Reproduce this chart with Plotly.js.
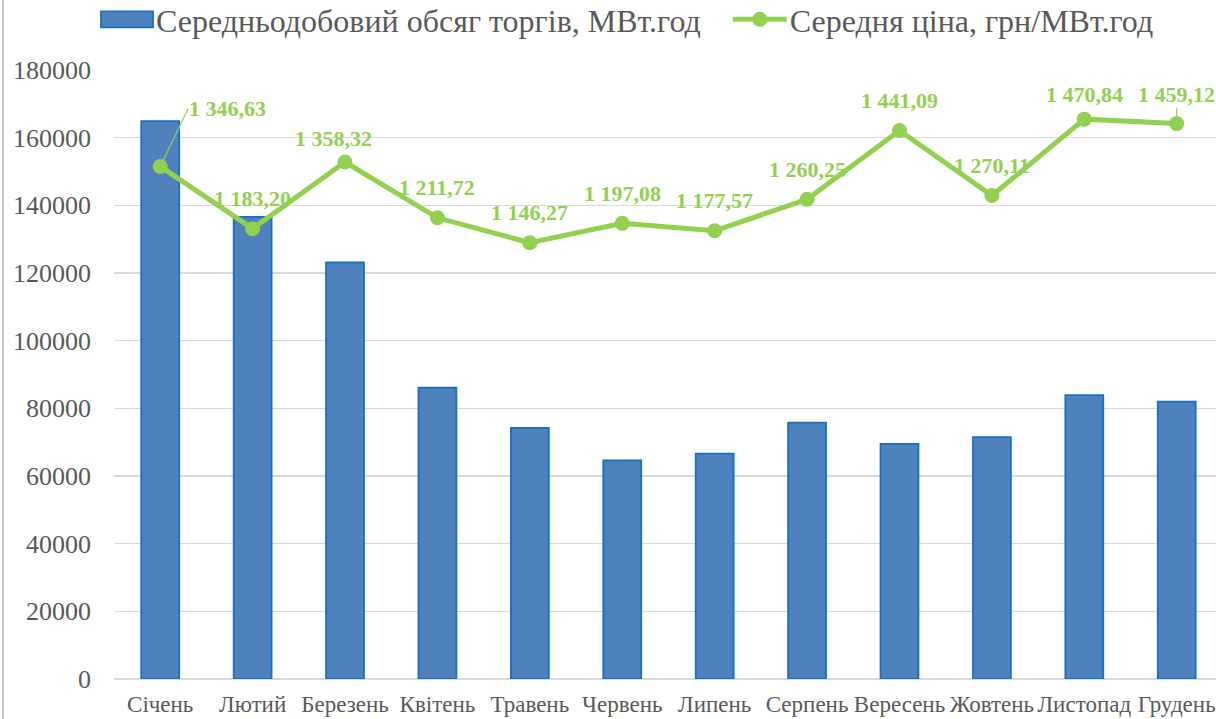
<!DOCTYPE html>
<html>
<head>
<meta charset="utf-8">
<script src="https://cdn.plot.ly/plotly-3.0.1.min.js"></script>
<style>
  html, body { margin: 0; padding: 0; background: #fff; }
  #wrap { position: relative; width: 1216px; height: 719px; overflow: hidden; }
  #chart { position: absolute; left: 0; top: 0; width: 1216px; height: 719px; }
  #edge { position: absolute; left: 2px; top: 0; width: 2px; height: 719px; background: #C9C9C9; }
</style>
</head>
<body>
<div id="wrap"><div id="chart"></div><div id="edge"></div></div>
<script>
// ---- data ----
const months = ['Січень','Лютий','Березень','Квітень','Травень','Червень','Липень','Серпень','Вересень','Жовтень','Листопад','Грудень'];
const volume = [164900, 136600, 123100, 86100, 74200, 64600, 66600, 75800, 69500, 71500, 83900, 82000];
const price = [1346.63, 1183.20, 1358.32, 1211.72, 1146.27, 1197.08, 1177.57, 1260.25, 1441.09, 1270.11, 1470.84, 1459.12];
const yTicks = [0, 20000, 40000, 60000, 80000, 100000, 120000, 140000, 160000, 180000];
const volumeName = 'Середньодобовий обсяг торгів, МВт.год';
const priceName = 'Середня ціна, грн/МВт.год';

// ---- styling ----
const serif = 'Liberation Serif, Times New Roman, serif';
const grey = '#595959';
const green = '#92D050';

function fmt(v) {
  const parts = v.toFixed(2).split('.');
  const intPart = parts[0].replace(/\B(?=(\d{3})+(?!\d))/g, ' ');
  return intPart + ',' + parts[1];
}

// label placement tweaks (layout only)
const labelTweak = {
  'Січень':   { arrow: true, ax: 28, ay: -58, xanchor: 'left', standoff: 0 },
  'Березень': { xshift: -12, yshift: 23 },
  'Листопад': { yshift: 25 },
  'Грудень':  { arrow: true, ax: 0, ay: -29, standoff: 7 }
};

const annotations = months.map((m, i) => {
  const t = labelTweak[m] || {};
  const a = {
    x: m, y: price[i], xref: 'x', yref: 'y2',
    text: '<b>' + fmt(price[i]) + '</b>',
    font: { family: serif, size: 22, color: green },
    showarrow: false
  };
  if (t.arrow) {
    a.showarrow = true;
    a.arrowhead = 0;
    a.arrowwidth = 1.2;
    a.arrowcolor = green;
    a.ax = t.ax; a.ay = t.ay;
    a.standoff = t.standoff;
    a.xanchor = t.xanchor || 'center';
    a.yanchor = 'middle';
    a.borderpad = 0;
  } else {
    a.yshift = (t.yshift !== undefined ? t.yshift : 30);
    a.xshift = t.xshift || 0;
    a.yanchor = 'middle';
  }
  return a;
});

const traces = [
  {
    type: 'bar', name: volumeName, x: months, y: volume, width: 0.41,
    legendgroup: 'vol',
    marker: { color: '#4F81BD', line: { color: '#1470C4', width: 1.8 } },
    hoverinfo: 'skip'
  },
  {
    type: 'scatter', mode: 'lines+markers', name: priceName, x: months, y: price, yaxis: 'y2',
    legendgroup: 'price',
    line: { color: green, width: 5 },
    marker: { color: green, size: 15 },
    hoverinfo: 'skip'
  }
];

const layout = {
  width: 1216, height: 719,
  margin: { l: 114, r: 0, t: 70, b: 40, autoexpand: false },
  paper_bgcolor: '#fff', plot_bgcolor: '#fff',
  font: { family: serif, color: grey },
  showlegend: true,
  legend: {
    orientation: 'h', xref: 'paper', yref: 'paper',
    x: -0.0381, xanchor: 'left', y: 1.128, yanchor: 'top',
    font: { family: serif, size: 32, color: grey },
    itemwidth: 74,
    traceorder: 'normal', bgcolor: 'rgba(0,0,0,0)'
  },
  xaxis: {
    type: 'category', range: [-0.5, 11.425],
    showgrid: false, showline: false, ticks: '', zeroline: false,
    tickfont: { family: serif, size: 23, color: grey },
    ticklabelstandoff: 9
  },
  yaxis: {
    range: [0, 180000], tickvals: yTicks, tickformat: 'd',
    showgrid: true, gridcolor: '#D9D9D9', gridwidth: 1.5,
    zeroline: true, zerolinecolor: '#D9D9D9', zerolinewidth: 1.5,
    showline: false, ticks: '',
    tickfont: { family: serif, size: 26, color: grey },
    ticklabelstandoff: 22
  },
  yaxis2: {
    overlaying: 'y', side: 'right', range: [0, 1600], visible: false, showgrid: false
  },
  annotations: annotations,
  hovermode: false
};

// Legend symbol styling: wide bar swatch and a short line placed just before each label
function styleLegendSymbols() {
  const gd = document.getElementById('chart');
  const groups = gd.querySelectorAll('.legend .traces');
  if (groups.length < 2) return;

  function toLocal(el, sx, sy) {
    const m = el.getScreenCTM().inverse();
    return { x: m.a * sx + m.c * sy + m.e, y: m.b * sx + m.d * sy + m.f };
  }

  // bar item
  const t1 = groups[0].querySelector('text.legendtext');
  const p1 = groups[0].querySelector('.legendpoints path');
  if (t1 && p1) {
    const tb = t1.getBoundingClientRect();
    const pb = p1.getBoundingClientRect();
    const cy = pb.top + pb.height / 2;
    const a = toLocal(p1, tb.left - 55, cy - 8);
    p1.setAttribute('d', 'M' + a.x + ',' + a.y + 'h52v16h-52Z');
  }

  // line item
  const t2 = groups[1].querySelector('text.legendtext');
  const l2 = groups[1].querySelector('.legendlines path');
  const m2 = groups[1].querySelector('.legendpoints path');
  if (t2 && l2) {
    const tb = t2.getBoundingClientRect();
    const lb = l2.getBoundingClientRect();
    const cy = lb.top + lb.height / 2;
    const start = tb.left - 57, len = 54;
    const a = toLocal(l2, start, cy);
    l2.setAttribute('d', 'M' + a.x + ',' + a.y + 'h' + len);
    if (m2) {
      const mb = m2.getBoundingClientRect();
      const dx = (start + len / 2) - (mb.left + mb.width / 2);
      const tr = m2.getAttribute('transform') || '';
      m2.setAttribute('transform', 'translate(' + dx + ',0) ' + tr);
    }
  }
}

Plotly.newPlot('chart', traces, layout, { displayModeBar: false, staticPlot: true }).then(styleLegendSymbols);
</script>
</body>
</html>
